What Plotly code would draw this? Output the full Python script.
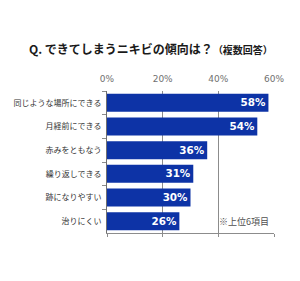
import plotly.graph_objects as go

categories = ["同じような場所にできる", "月経前にできる", "赤みをともなう", "繰り返しできる", "跡になりやすい", "治りにくい"]
values = [58, 54, 36, 31, 30, 26]
x_ticks = [0, 20, 40, 60]
x_tick_labels = ["0%", "20%", "40%", "60%"]

BAR = "#0d33a6"
GRID = "#8c8c8c"
FONT = "Noto Sans CJK JP"

fig = go.Figure()
fig.add_trace(go.Bar(
    x=values, y=categories, orientation="h", width=0.76,
    marker=dict(color=BAR, line=dict(width=0)),
    text=[f"{v}%" for v in values], textposition="inside", insidetextanchor="end",
    textfont=dict(family="DejaVu Sans", size=13, color="white", weight="bold"),
    cliponaxis=False, xaxis="x", yaxis="y", showlegend=False,
))
fig.add_trace(go.Scatter(x=[0], y=[categories[0]], xaxis="x2", yaxis="y",
                         mode="markers", marker=dict(opacity=0), showlegend=False, hoverinfo="skip"))

fig.update_layout(
    width=300, height=281,
    margin=dict(l=107, r=26, t=91, b=48, autoexpand=False),
    paper_bgcolor="white", plot_bgcolor="white",
    font=dict(family=FONT, color="#404040"),
    uniformtext=dict(mode="show", minsize=8),
    xaxis=dict(range=[0, 60], side="top", tickvals=x_ticks, ticktext=x_tick_labels,
               showgrid=True, gridcolor=GRID, gridwidth=1, zeroline=False, automargin=False,
               showline=False, ticks="", ticklabelstandoff=6,
               tickfont=dict(size=9, color="#707070", family="DejaVu Sans"),
               fixedrange=True),
    xaxis2=dict(range=[0, 60], side="bottom", overlaying="x", tickvals=x_ticks, automargin=False,
                showticklabels=False, ticks="outside", ticklen=3, tickcolor=GRID,
                showline=True, linecolor=GRID, linewidth=1, showgrid=False, zeroline=False),
    yaxis=dict(autorange="reversed", tickson="boundaries", ticks="outside", ticklen=4, automargin=False,
               tickcolor=GRID, showline=True, linecolor="#707070", linewidth=1,
               tickfont=dict(size=8, color="#333333"), ticklabelstandoff=3),
    annotations=[
        dict(text="<b>Q. できてしまうニキビの傾向は？</b><span style='font-size:10px'><b>（複数回答）</b></span>",
             xref="paper", yref="paper", x=-0.479, y=1.0, yshift=43, xanchor="left", yanchor="middle",
             showarrow=False, font=dict(size=12, color="#1a1a1a", family=FONT)),
        dict(text="※上位6項目", xref="x", yref="paper", x=59, y=0.08, xanchor="right", yanchor="middle",
             showarrow=False, font=dict(size=9, color="#505050", family=FONT)),
    ],
)

fig.write_html("out.html")
